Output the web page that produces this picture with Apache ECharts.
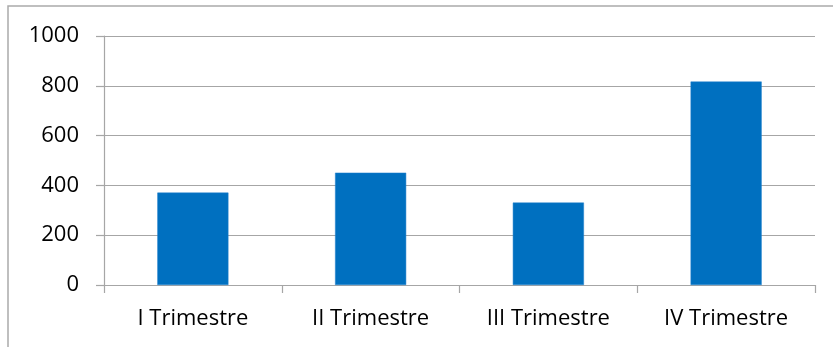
<!DOCTYPE html>
<html>
<head>
<meta charset="utf-8">
<script src="https://cdn.jsdelivr.net/npm/echarts@6/dist/echarts.min.js"></script>
<style>
  html, body { margin: 0; padding: 0; background: #ffffff; }
  #chart { width: 833px; height: 347px; }
</style>
</head>
<body>
<div id="chart"></div>
<script>
// Quarterly values
const categories = ['I Trimestre', 'II Trimestre', 'III Trimestre', 'IV Trimestre'];
const values = [371, 451, 331, 817];
const yTicks = { min: 0, max: 1000, interval: 200 };

const gridColor = '#a6a6a6';
const labelFont = { fontFamily: 'Open Sans', fontSize: 22, color: '#000000' };

const chart = echarts.init(document.getElementById('chart'), null, { renderer: 'canvas' });
chart.setOption({
  animation: false,
  backgroundColor: '#ffffff',
  graphic: [{
    type: 'rect',
    shape: { x: 8, y: 6, width: 900, height: 400 },
    style: { fill: 'none', stroke: '#ababab', lineWidth: 1.5 },
    silent: true
  }],
  grid: { left: 104, right: 18, top: 36, bottom: 62, containLabel: false },
  xAxis: {
    type: 'category',
    data: categories,
    axisLine: { show: true, lineStyle: { color: gridColor, width: 1.2 } },
    axisTick: { show: true, length: 8, alignWithLabel: false, lineStyle: { color: gridColor, width: 1.2 } },
    axisLabel: Object.assign({ margin: 23 }, labelFont),
    splitLine: { show: false }
  },
  yAxis: {
    type: 'value',
    min: yTicks.min,
    max: yTicks.max,
    interval: yTicks.interval,
    axisLine: { show: true, lineStyle: { color: gridColor, width: 1.2 } },
    axisTick: { show: true, length: 8, lineStyle: { color: gridColor, width: 1.2 } },
    axisLabel: Object.assign({ margin: 25, formatter: v => String(v) }, labelFont),
    splitLine: { show: true, lineStyle: { color: gridColor, width: 1.2 } }
  },
  series: [{
    type: 'bar',
    data: values,
    barWidth: '40%',
    itemStyle: { color: '#0070c0', borderColor: '#1e7fcc', borderWidth: 0.5 }
  }]
});
</script>
</body>
</html>
